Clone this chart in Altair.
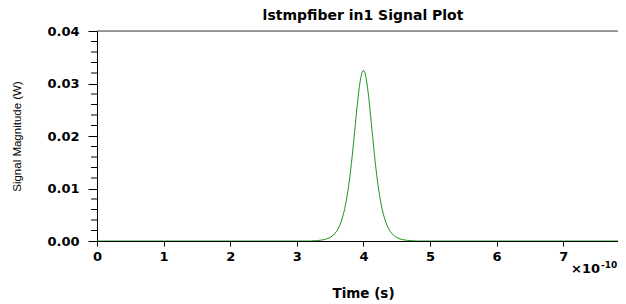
import altair as alt
import pandas as pd

# Time axis in units of 1e-10 s
times = [0.0, 3.20, 3.30, 3.35, 3.40, 3.45, 3.50, 3.55, 3.60, 3.64, 3.67, 3.70,
         3.72, 3.74, 3.76, 3.78, 3.80, 3.82, 3.84, 3.86, 3.88, 3.90, 3.92, 3.94,
         3.96, 3.98, 4.00, 4.02, 4.04, 4.06, 4.08, 4.10, 4.12, 4.14, 4.16, 4.18,
         4.20, 4.22, 4.24, 4.26, 4.28, 4.30, 4.33, 4.36, 4.40, 4.45, 4.50, 4.55,
         4.60, 4.65, 4.70, 4.80, 8.0]
signal = [0.0, 0.0, 0.00008, 0.00014, 0.00023, 0.0004, 0.00067, 0.00112, 0.00187,
          0.00282, 0.0038, 0.0051, 0.00616, 0.00743, 0.0089, 0.01061, 0.01255,
          0.01474, 0.01715, 0.01971, 0.02235, 0.02494, 0.02735, 0.02946, 0.0311,
          0.03215, 0.0325, 0.03215, 0.0311, 0.02946, 0.02735, 0.02494, 0.02235,
          0.01971, 0.01715, 0.01474, 0.01255, 0.01061, 0.0089, 0.00743, 0.00616,
          0.0051, 0.0038, 0.00282, 0.00187, 0.00112, 0.00067, 0.0004, 0.00023,
          0.00014, 0.00008, 0.0, 0.0]

y_major = [0.0, 0.01, 0.02, 0.03, 0.04]
y_minor = [0.002, 0.004, 0.006, 0.008, 0.012, 0.014, 0.016, 0.018,
           0.022, 0.024, 0.026, 0.028, 0.032, 0.034, 0.036, 0.038]
x_major = [0, 1, 2, 3, 4, 5, 6, 7]
x_minor = [0.5, 1.5, 2.5, 3.5, 4.5, 5.5, 6.5, 7.5]

W, H = 521, 210
X_MAX = 7.823
LABEL_FONT = "DejaVu Sans"

df = pd.DataFrame({"t": times, "v": signal})
xs = alt.Scale(domain=[0, X_MAX], nice=False, zero=False)
ys = alt.Scale(domain=[0, 0.04], nice=False)

x_axis = alt.Axis(
    values=x_major, format="d", title="Time (s)", tickSize=5, labelPadding=4,
    labelFont=LABEL_FONT, labelFontSize=13, labelFontWeight="bold", labelColor="black",
    titleFont=LABEL_FONT, titleFontSize=13.5, titleFontWeight="bold", titleColor="black",
    titleX=266, titleY=56, titleAlign="center", titleBaseline="alphabetic",
    domainColor="black", tickColor="black", grid=False, labelFlush=False)
y_axis = alt.Axis(
    values=y_major, format=".2f", title="Signal Magnitude (W)", tickSize=9, labelPadding=9,
    labelFont=LABEL_FONT, labelFontSize=13, labelFontWeight="bold", labelColor="black",
    titleFont="Liberation Sans", titleFontSize=11.5, titleFontWeight="normal", titleColor="black",
    titleX=-80, titleY=105, titleAngle=-90, titleAlign="center", titleBaseline="middle",
    domainColor="black", tickColor="black", grid=False, labelFlush=False)

line = alt.Chart(df).mark_line(color="#1e961e", strokeWidth=1, clip=True).encode(
    x=alt.X("t:Q", scale=xs, axis=x_axis),
    y=alt.Y("v:Q", scale=ys, axis=y_axis),
)

ymin_df = pd.DataFrame({"v": y_minor})
y_minor_ticks = alt.Chart(ymin_df).mark_rule(color="black", strokeWidth=1).encode(
    y=alt.Y("v:Q", scale=ys, axis=y_axis), x=alt.value(-6), x2=alt.value(0))

xmin_df = pd.DataFrame({"t": x_minor})
x_minor_ticks = alt.Chart(xmin_df).mark_rule(color="black", strokeWidth=1, clip=True).encode(
    x=alt.X("t:Q", scale=xs, axis=x_axis), y=alt.value(H), y2=alt.value(H + 3))

one = pd.DataFrame({"k": [0]})
top_line = alt.Chart(one).mark_rule(color="#444444", strokeWidth=1).encode(
    x=alt.value(0), x2=alt.value(W), y=alt.value(0))

title_text = alt.Chart(one).mark_text(
    font=LABEL_FONT, fontSize=14, fontWeight="bold", color="black",
    align="center", baseline="alphabetic").encode(
    x=alt.value(266), y=alt.value(-11), text=alt.value("lstmpfiber in1 Signal Plot"))

exp_base = alt.Chart(one).mark_text(
    font=LABEL_FONT, fontSize=13, fontWeight="bold", color="black",
    align="right", baseline="alphabetic").encode(
    x=alt.value(503), y=alt.value(241.7), text=alt.value("×10"))
exp_sup = alt.Chart(one).mark_text(
    font=LABEL_FONT, fontSize=9, fontWeight="bold", color="black",
    align="left", baseline="alphabetic").encode(
    x=alt.value(504), y=alt.value(237), text=alt.value("-10"))

chart = alt.layer(line, y_minor_ticks, x_minor_ticks, top_line, title_text,
                  exp_base, exp_sup).properties(
    width=W, height=H,
    autosize=alt.AutoSizeParams(type="none"),
    padding={"left": 89, "top": 23, "right": 0, "bottom": 60},
).configure_view(stroke=None).configure(background="white")

chart.save("out.html", embed_options={"renderer": "svg", "actions": False})
